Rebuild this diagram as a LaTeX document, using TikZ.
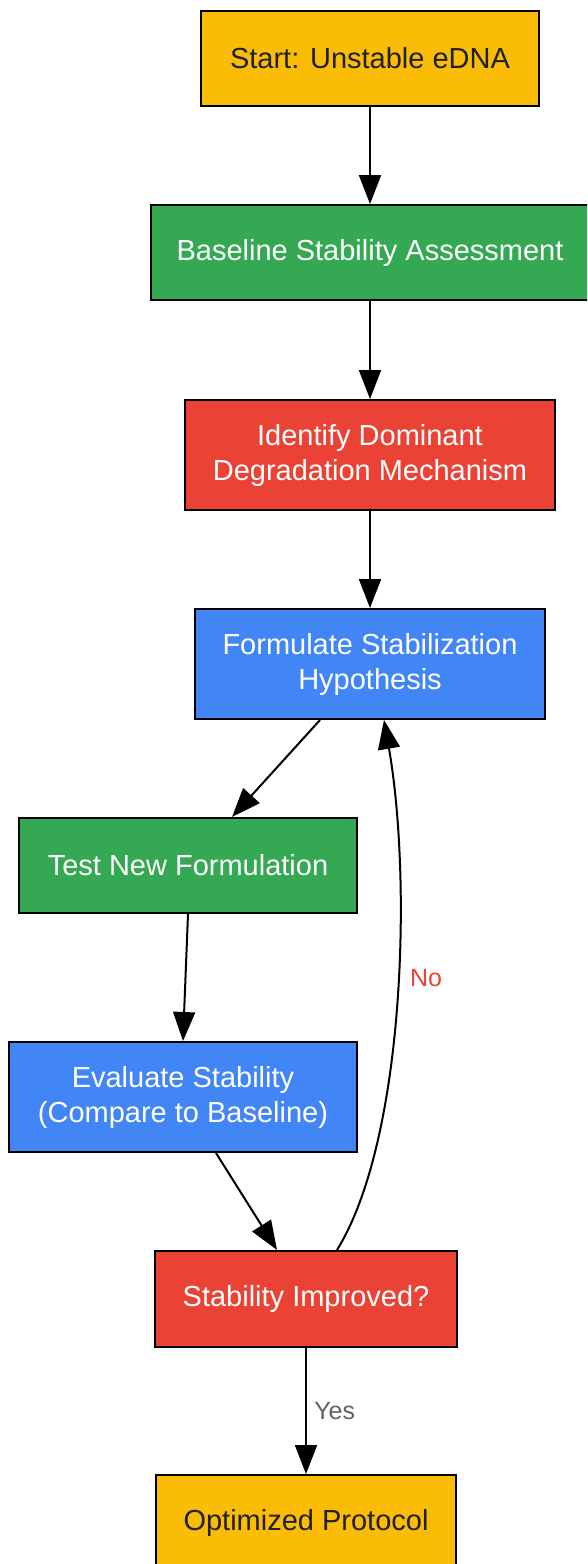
\documentclass[tikz,border=0pt]{standalone}
\usepackage{fontspec}
\setmainfont{Liberation Sans}
\usetikzlibrary{arrows.meta,calc}
\definecolor{gyellow}{HTML}{FBBC05}
\definecolor{ggreen}{HTML}{34A853}
\definecolor{gred}{HTML}{EA4335}
\definecolor{gblue}{HTML}{4285F4}
\definecolor{gdark}{HTML}{202124}
\definecolor{ggray}{HTML}{5F6368}
\tikzset{
  box/.style={draw=black, line width=2pt, inner sep=0pt, align=center,
    font=\fontsize{29}{35}\selectfont},
  ybox/.style={box, fill=gyellow, text=gdark},
  gbox/.style={box, fill=ggreen, text=white},
  rbox/.style={box, fill=gred, text=white},
  bbox/.style={box, fill=gblue, text=white},
  conn/.style={line width=2pt, -{Triangle[length=29pt,width=22pt]}},
  lbl/.style={font=\fontsize{25}{30}\selectfont}
}
\begin{document}
\begin{tikzpicture}[x=1pt,y=-1pt]
\useasboundingbox (0,0) rectangle (587,1564);
\clip (0,0) rectangle (587,1564);
\fill[white] (0,0) rectangle (587,1564);
\node[ybox, minimum width=338pt, minimum height=95pt] (start) at (370,58.5) {Start: Unstable eDNA};
\node[gbox, minimum width=438pt, minimum height=95pt] (base) at (370,252.5) {Baseline Stability Assessment};
\node[rbox, minimum width=370pt, minimum height=110pt] (ident) at (370,455) {Identify Dominant\\Degradation Mechanism};
\node[bbox, minimum width=350pt, minimum height=110pt] (form) at (370,664) {Formulate Stabilization\\Hypothesis};
\node[gbox, minimum width=338pt, minimum height=95pt] (test) at (188,865.5) {Test New Formulation};
\node[bbox, minimum width=348pt, minimum height=110pt] (eval) at (183,1097) {Evaluate Stability\\(Compare to Baseline)};
\node[rbox, minimum width=302pt, minimum height=96pt] (imp) at (306,1299) {Stability Improved?};
\node[ybox, minimum width=300pt, minimum height=96pt] (opt) at (306,1523) {Optimized Protocol};

\draw[conn] (start) -- (base);
\draw[conn] (base) -- (ident);
\draw[conn] (ident) -- (form);
\draw[conn] ($(form.south)+(-50,0)$) -- ($(test.north)+(44,0)$);
\draw[conn] (test.south) -- (eval.north);
\draw[conn] ($(eval.south)+(33,0)$) -- ($(imp.north)+(-29,0)$);
\draw[conn] ($(imp.north)+(31,0)$) .. controls (405,1140) and (412,880) .. ($(form.south)+(14,0)$);
\node[lbl, text=gred] (no) at (426,978) {No};
\draw[conn] (imp) -- (opt) node[pos=0.5, right=4pt, lbl, text=ggray] (yes) {Yes};
\end{tikzpicture}
\end{document}
